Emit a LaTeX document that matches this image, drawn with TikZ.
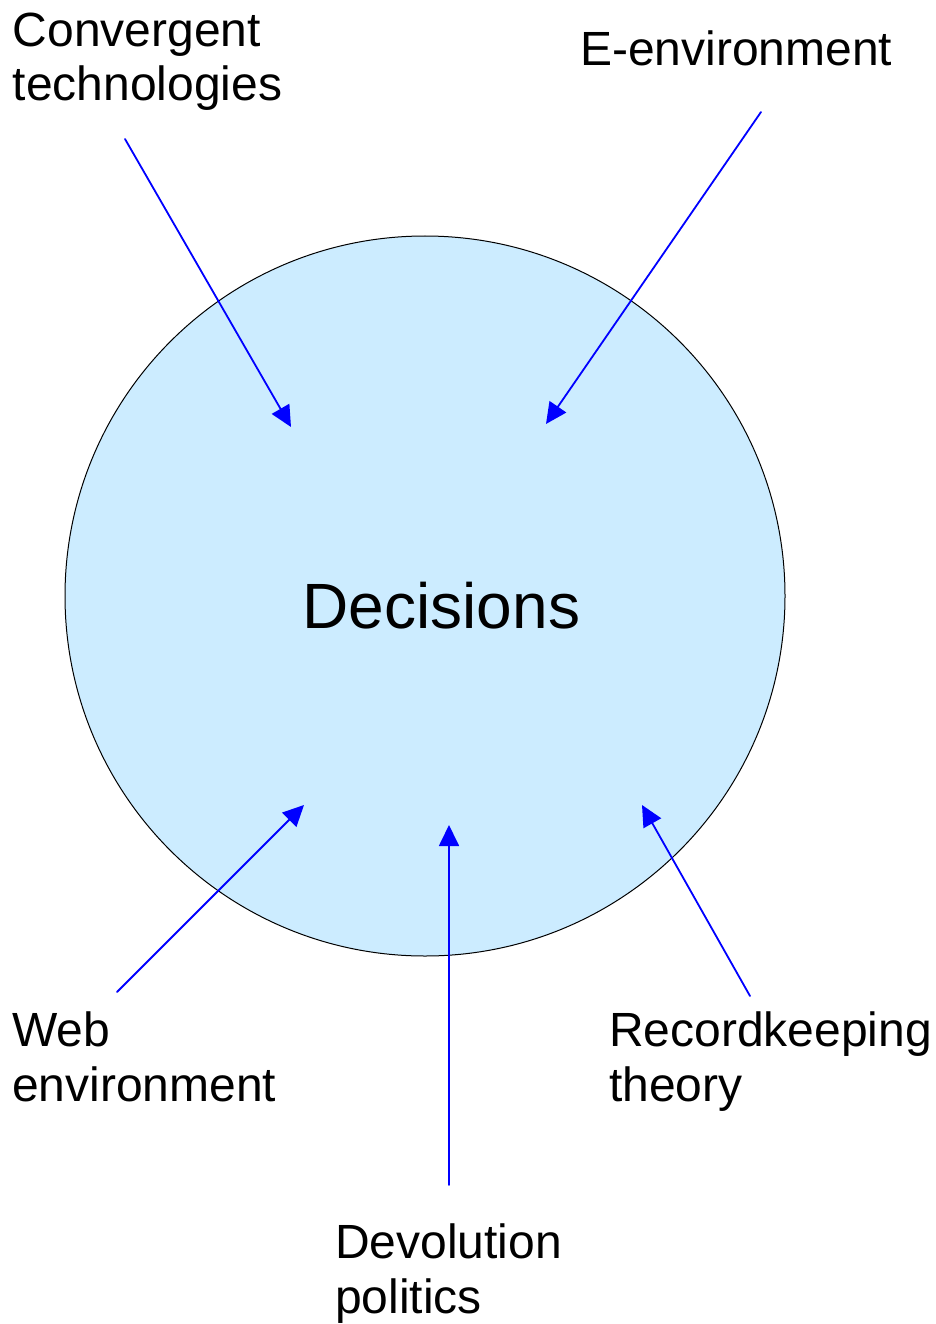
\documentclass[tikz,border=0pt]{standalone}
\usepackage{fontspec}
\setmainfont{Liberation Sans}
\usetikzlibrary{arrows.meta}
\definecolor{discfill}{RGB}{204,236,255}
\tikzset{
  lbl/.style={anchor=base west,align=left,inner sep=0pt,font=\fontsize{48}{54.5}\selectfont},
  push/.style={draw=blue,line width=1.8pt,-{Triangle[length=21pt,width=20pt]}}
}
\begin{document}
\begin{tikzpicture}[line cap=round,line join=round,x=1pt,y=-1pt]
		\useasboundingbox (0,0) rectangle (935,1324);
		\node [circle,draw=black,line width=1pt,fill=discfill,minimum size=720pt,inner sep=0pt] (disc) at (425,596) {};
		\node [anchor=base west,inner sep=0pt,font=\fontsize{64}{72}\selectfont] (dec) at (302.5,628) {Decisions};
		% labels (base = last line)
		\node [lbl] (conv) at (12.6,101) {Convergent\\technologies};
		\node [lbl] (eenv) at (580,66) {E-environment};
		\node [lbl] (web) at (12,1101) {Web\\environment};
		\node [lbl] (rec) at (609,1101) {Recordkeeping\\theory};
		\node [lbl] (dev) at (335,1313) {Devolution\\politics};
		% arrow ends
		\coordinate (c1) at (125,139);
		\coordinate (c2) at (761,112);
		\coordinate (c3) at (117,992);
		\coordinate (c4) at (449,1185);
		\coordinate (c5) at (750,996);
		\coordinate (t1) at (291,427);
		\coordinate (t2) at (546,424);
		\coordinate (t3) at (304,805);
		\coordinate (t4) at (449,825);
		\coordinate (t5) at (642,805);
		\draw [push] (c1) -- (t1);
		\draw [push] (c2) -- (t2);
		\draw [push] (c3) -- (t3);
		\draw [push] (c4) -- (t4);
		\draw [push] (c5) -- (t5);
	\end{tikzpicture}
\end{document}
